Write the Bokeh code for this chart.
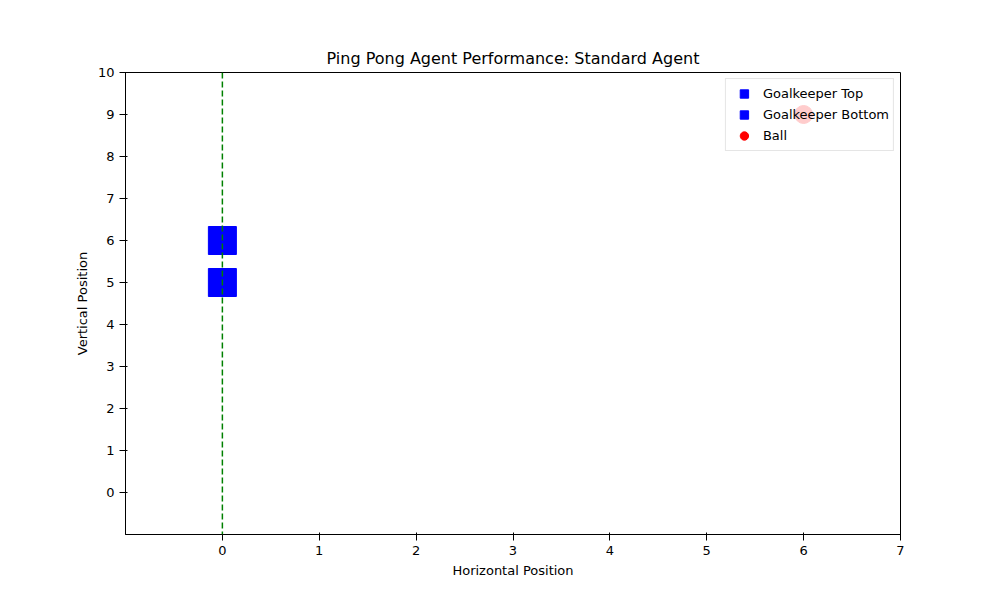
from bokeh.plotting import figure
from bokeh.models import Span, FixedTicker
from bokeh.embed import file_html
from bokeh.resources import INLINE

# positions
keeper_top = (0, 6)
keeper_bottom = (0, 5)
ball = (6, 9)
x_ticks = [0, 1, 2, 3, 4, 5, 6, 7]
y_ticks = [0, 1, 2, 3, 4, 5, 6, 7, 8, 9, 10]

p = figure(frame_width=775, frame_height=462, x_range=(-1, 7), y_range=(-1, 10),
           title="Ping Pong Agent Performance: Standard Agent",
           output_backend="svg", toolbar_location=None,
           min_border_left=125, min_border_top=72, min_border_right=84, min_border_bottom=40)
p.title.align = "center"
p.title.text_font = "DejaVu Sans"
p.title.text_font_size = "16px"
p.title.text_font_style = "normal"
p.title.text_color = "black"
p.xgrid.visible = False
p.ygrid.visible = False
p.outline_line_color = "black"

for ax, lbl, ticks in [(p.xaxis[0], "Horizontal Position", x_ticks), (p.yaxis[0], "Vertical Position", y_ticks)]:
    ax.axis_label = lbl
    ax.ticker = FixedTicker(ticks=ticks)
    ax.minor_tick_line_color = None
    ax.axis_label_text_font = "DejaVu Sans"
    ax.axis_label_text_font_style = "normal"
    ax.axis_label_text_font_size = "13px"
    ax.axis_label_text_color = "black"
    ax.major_label_text_font = "DejaVu Sans"
    ax.major_label_text_font_size = "13px"
    ax.major_label_text_color = "black"
    ax.axis_line_color = "black"
    ax.major_tick_line_color = "black"

p.add_layout(Span(location=0, dimension="height", line_color="green", line_dash="6 3", line_width=1.5))

p.scatter([keeper_top[0]], [keeper_top[1]], marker="square", size=28, color="blue", legend_label="Goalkeeper Top")
p.scatter([keeper_bottom[0]], [keeper_bottom[1]], marker="square", size=28, color="blue", legend_label="Goalkeeper Bottom")
p.scatter([ball[0]], [ball[1]], marker="circle", size=18, color="red", legend_label="Ball")

lg = p.legend[0]
lg.location = "top_right"
lg.background_fill_alpha = 0.8
lg.border_line_color = "#cccccc"
lg.label_text_font = "DejaVu Sans"
lg.label_text_font_size = "13px"
lg.label_text_color = "black"
lg.spacing = 0
lg.label_height = 18
lg.glyph_height = 21
lg.glyph_width = 28
lg.padding = 4
lg.margin = 6

open("out.html", "w").write(file_html(p, INLINE))
